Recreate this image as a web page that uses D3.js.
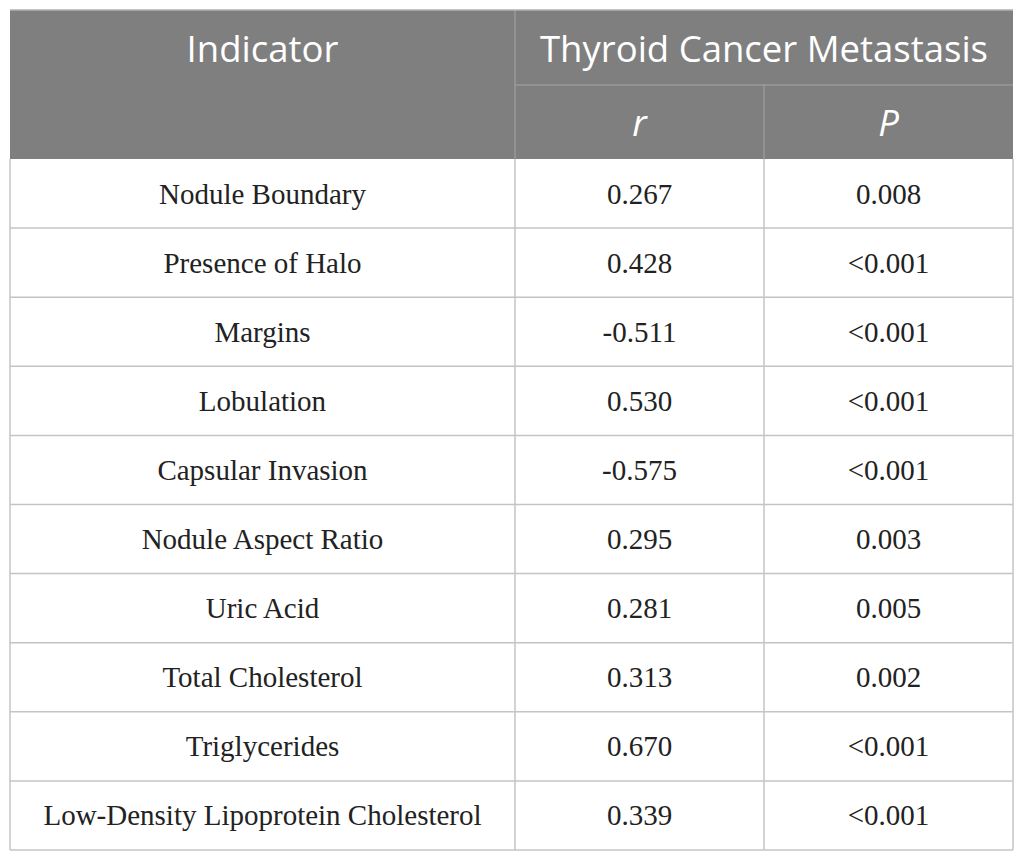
<!DOCTYPE html>
<html lang="en">
<head>
    <meta charset="UTF-8">
    <script src="https://cdn.jsdelivr.net/npm/d3@7"></script>
    <title>Correlation Table</title>
    <style>
        body { margin: 0; background: #fff; }
    </style>
</head>
<body>
    <script>
        const indicators = ["Nodule Boundary", "Presence of Halo", "Margins", "Lobulation", "Capsular Invasion",
            "Nodule Aspect Ratio", "Uric Acid", "Total Cholesterol", "Triglycerides", "Low-Density Lipoprotein Cholesterol"];
        const rValues = ["0.267", "0.428", "-0.511", "0.530", "-0.575", "0.295", "0.281", "0.313", "0.670", "0.339"];
        const pValues = ["0.008", "<0.001", "<0.001", "<0.001", "<0.001", "0.003", "0.005", "0.002", "<0.001", "<0.001"];
        const headerTop = "Thyroid Cancer Metastasis";
        const headerFirst = "Indicator";
        const subHeaders = ["r", "P"];

        const w = 1025;
        const h = 862;
        const tLeft = 10, tRight = 1013, tTop = 10, headMid = 85, headBottom = 159, tBottom = 850;
        const colEdges = [tLeft, 515, 764, tRight];
        const headerFill = "#7f7f7f";
        const lineColor = "#c4c4c4";

        const svg = d3.select("body")
            .append("svg")
            .attr("width", w)
            .attr("height", h);

        const rowScale = d3.scaleBand()
            .domain(d3.range(indicators.length))
            .range([headBottom, tBottom]);

        // header block
        svg.append("rect")
            .attr("x", tLeft)
            .attr("y", tTop)
            .attr("width", tRight - tLeft)
            .attr("height", headBottom - tTop)
            .attr("fill", headerFill);

        // header lines
        svg.append("line")
            .attr("x1", colEdges[1]).attr("x2", colEdges[1])
            .attr("y1", tTop).attr("y2", headBottom)
            .attr("stroke", "#a6a6a6").attr("stroke-width", 1);
        svg.append("line")
            .attr("x1", colEdges[1]).attr("x2", tRight)
            .attr("y1", headMid).attr("y2", headMid)
            .attr("stroke", "#a6a6a6").attr("stroke-width", 1);
        svg.append("line")
            .attr("x1", colEdges[2]).attr("x2", colEdges[2])
            .attr("y1", headMid).attr("y2", headBottom)
            .attr("stroke", "#a6a6a6").attr("stroke-width", 1);

        const headFont = "'Open Sans', Lato, sans-serif";
        svg.append("text")
            .attr("x", (colEdges[0] + colEdges[1]) / 2)
            .attr("y", (tTop + headMid) / 2)
            .attr("text-anchor", "middle")
            .attr("dominant-baseline", "central")
            .attr("fill", "#fff")
            .style("font-family", headFont)
            .style("font-size", "36.5px")
            .text(headerFirst);

        svg.append("text")
            .attr("x", (colEdges[1] + colEdges[3]) / 2)
            .attr("y", (tTop + headMid) / 2)
            .attr("text-anchor", "middle")
            .attr("dominant-baseline", "central")
            .attr("fill", "#fff")
            .style("font-family", headFont)
            .style("font-size", "36.5px")
            .text(headerTop);

        svg.selectAll(".sub")
            .data(subHeaders)
            .enter()
            .append("text")
            .attr("class", "sub")
            .attr("x", (d, i) => (colEdges[i + 1] + colEdges[i + 2]) / 2)
            .attr("y", (headMid + headBottom) / 2)
            .attr("text-anchor", "middle")
            .attr("dominant-baseline", "central")
            .attr("fill", "#fff")
            .style("font-family", headFont)
            .style("font-style", "italic")
            .style("font-size", "36.5px")
            .text(d => d);

        // body grid
        svg.selectAll(".hline")
            .data(d3.range(indicators.length))
            .enter()
            .append("line")
            .attr("class", "hline")
            .attr("x1", tLeft).attr("x2", tRight)
            .attr("y1", d => rowScale(d) + rowScale.bandwidth())
            .attr("y2", d => rowScale(d) + rowScale.bandwidth())
            .attr("stroke", lineColor).attr("stroke-width", 1.5);

        svg.selectAll(".vline")
            .data(colEdges)
            .enter()
            .append("line")
            .attr("class", "vline")
            .attr("x1", d => d).attr("x2", d => d)
            .attr("y1", headBottom).attr("y2", tBottom)
            .attr("stroke", lineColor).attr("stroke-width", 1.5);

        svg.append("line")
            .attr("x1", tLeft).attr("x2", tRight)
            .attr("y1", tTop).attr("y2", tTop)
            .attr("stroke", "#b0b0b0").attr("stroke-width", 1.5);

        const bodyFont = "'Liberation Serif', 'Times New Roman', serif";
        const columns = [indicators, rValues, pValues];
        columns.forEach((col, ci) => {
            svg.selectAll(".cell" + ci)
                .data(col)
                .enter()
                .append("text")
                .attr("class", "cell" + ci)
                .attr("x", (colEdges[ci] + colEdges[ci + 1]) / 2)
                .attr("y", (d, i) => rowScale(i) + rowScale.bandwidth() / 2)
                .attr("text-anchor", "middle")
                .attr("dominant-baseline", "central")
                .attr("fill", "#222")
                .style("font-family", bodyFont)
                .style("font-size", "29px")
                .text(d => d);
        });
    </script>
</body>
</html>
